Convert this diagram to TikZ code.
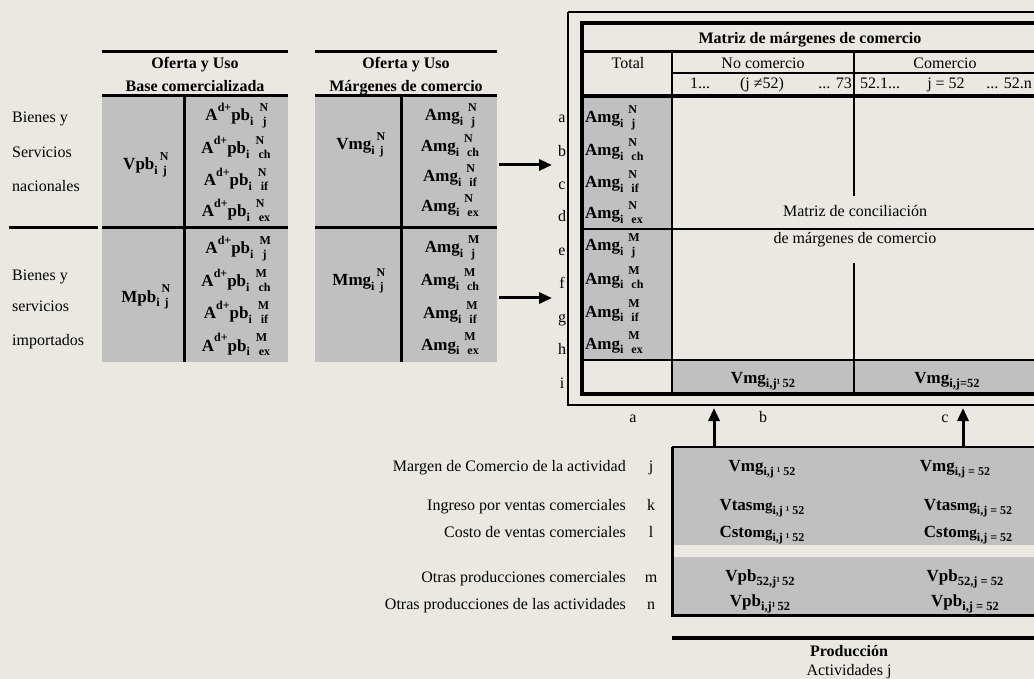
\documentclass[tikz,border=0pt]{standalone}
\usepackage{fontspec}
\setmainfont{Liberation Serif}
\usetikzlibrary{arrows.meta}
\definecolor{bg}{RGB}{235,232,225}
\definecolor{cellgray}{RGB}{192,192,192}
\newcommand{\fx}{\fontsize{17}{20}\selectfont\bfseries}
\newcommand{\xhi}[1]{\raisebox{0.55em}{\fontsize{12}{12}\selectfont #1}}
\newcommand{\xlo}[1]{\raisebox{-0.25em}{\fontsize{12}{12}\selectfont #1}}
\newcommand{\xsb}[1]{\raisebox{-0.25em}{\fontsize{12.5}{12}\selectfont #1}}
\newcommand{\tri}[4]{\xlo{#1}\kern#2\makebox[0pt][l]{\xhi{#3}}\kern3pt\xlo{#4}}
\newcommand{\smg}{{\fontsize{15}{15}\selectfont mg}}
\begin{document}
\begin{tikzpicture}[x=1pt,y=-1pt,
  lab/.style={font=\fontsize{16}{18}\selectfont, inner sep=0pt, anchor=base},
  labr/.style={lab, anchor=base east},
  labl/.style={lab, anchor=base west},
  ttl/.style={lab, font=\fontsize{16}{18}\selectfont\bfseries},
  fm/.style={inner sep=0pt, anchor=base, font=\fx},
  fml/.style={fm, anchor=base west},
  thk/.style={line width=3pt},
  med/.style={line width=2pt},
  thn/.style={line width=1.3pt},
  arr/.style={line width=3pt, -{Triangle[length=13pt,width=11pt]}},
]
\fill[bg] (0,0) rectangle (1034,679);
\useasboundingbox (0,0) rectangle (1034,679);
\clip (0,0) rectangle (1034,679);

% ---------- block 1 and 2 ----------
\fill[cellgray] (102,97) rectangle (288,362);
\fill[cellgray] (315,97) rectangle (497,362);
\draw[thk] (102,52) -- (288,52);
\draw[thk] (102,96) -- (288,96);
\draw[thk] (184,96) -- (184,362);
\draw[thk] (9,228) -- (98,228);
\draw[thk] (102,228) -- (288,228);
\draw[thk] (315,52) -- (497,52);
\draw[thk] (315,96) -- (497,96);
\draw[thk] (401,96) -- (401,362);
\draw[thk] (315,228) -- (497,228);

\node[ttl] (t1a) at (195,69) {Oferta y Uso};
\node[ttl] (t1b) at (195,92) {Base comercializada};
\node[ttl] (t2a) at (406,69) {Oferta y Uso};
\node[ttl] (t2b) at (406,92) {Márgenes de comercio};

\node[labl] (l1) at (12,123) {Bienes y};
\node[labl] (l2) at (12,158) {Servicios};
\node[labl] (l3) at (12,192) {nacionales};
\node[labl] (l4) at (12,280) {Bienes y};
\node[labl] (l5) at (12,312) {servicios};
\node[labl] (l6) at (12,345) {importados};

\node[fm] (vpb) at (145,170) {Vpb\tri{i}{2pt}{N}{j}};
\node[fm] (mpb) at (145,302) {Mpb\tri{i}{2pt}{N}{j}};
\node[fm] (an1) at (236,121) {A\xhi{d+}pb\tri{i}{6pt}{N}{j}};
\node[fm] (an2) at (236,154) {A\xhi{d+}pb\tri{i}{6pt}{N}{ch}};
\node[fm] (an3) at (236,186) {A\xhi{d+}pb\tri{i}{6pt}{N}{if}};
\node[fm] (an4) at (236,217) {A\xhi{d+}pb\tri{i}{6pt}{N}{ex}};
\node[fm] (am1) at (236,254) {A\xhi{d+}pb\tri{i}{6pt}{M}{j}};
\node[fm] (am2) at (236,287) {A\xhi{d+}pb\tri{i}{6pt}{M}{ch}};
\node[fm] (am3) at (236,319) {A\xhi{d+}pb\tri{i}{6pt}{M}{if}};
\node[fm] (am4) at (236,351) {A\xhi{d+}pb\tri{i}{6pt}{M}{ex}};

\node[fm] (vmg) at (360,150) {Vmg\tri{i}{2pt}{N}{j}};
\node[fm] (mmg) at (358,286) {Mmg\tri{i}{2pt}{N}{j}};
\node[fm] (bn1) at (450,121) {Amg\tri{i}{5pt}{N}{j}};
\node[fm] (bn2) at (450,152) {Amg\tri{i}{5pt}{N}{ch}};
\node[fm] (bn3) at (450,182) {Amg\tri{i}{5pt}{N}{if}};
\node[fm] (bn4) at (450,212) {Amg\tri{i}{5pt}{N}{ex}};
\node[fm] (bm1) at (450,253) {Amg\tri{i}{5pt}{M}{j}};
\node[fm] (bm2) at (450,286) {Amg\tri{i}{5pt}{M}{ch}};
\node[fm] (bm3) at (450,319) {Amg\tri{i}{5pt}{M}{if}};
\node[fm] (bm4) at (450,350) {Amg\tri{i}{5pt}{M}{ex}};

% ---------- matrix ----------
\fill[cellgray] (584,98) rectangle (672,360);
\fill[cellgray] (672,360) rectangle (1040,394);
\draw[line width=1.5pt] (1040,12) -- (568,12);
\draw[med] (568,12) -- (568,405) -- (1040,405);
\draw[line width=4pt] (1040,23) -- (582,23) -- (582,394) -- (1040,394);
\draw[thk] (582,52) -- (1040,52);
\draw[thn] (672,73) -- (1040,73);
\draw[line width=3.5pt] (582,96) -- (1040,96);
\draw[med] (672,52) -- (672,394);
\draw[med] (854,52) -- (854,196);
\draw[med] (854,263) -- (854,394);
\draw[med] (582,229) -- (1040,229);
\draw[med] (582,360) -- (1040,360);

\node[ttl] (mt) at (810,44) {Matriz de márgenes de comercio};
\node[lab] (hTot) at (628,69) {Total};
\node[lab] (hNo) at (763,69) {No comercio};
\node[lab] (hCo) at (945,69) {Comercio};
\node[lab] (h1) at (700,89) {1...};
\node[lab] (h2) at (762,89) {(j ≠52)};
\node[labr] (h3) at (852,89) {... 73};
\node[lab] (h4) at (880,89) {52.1...};
\node[lab] (h5) at (946,89) {j = 52};
\node[labr] (h6) at (1032,89) {... 52.n};

\node[lab] (ra) at (562,123) {a};
\node[lab] (rb) at (562,157) {b};
\node[lab] (rc) at (562,190) {c};
\node[lab] (rd) at (562,222) {d};
\node[lab] (re) at (562,256) {e};
\node[lab] (rf) at (562,289) {f};
\node[lab] (rg) at (562,322) {g};
\node[lab] (rh) at (562,354) {h};
\node[lab] (ri) at (562,388) {i};

\node[fml] (c1) at (585,123) {Amg\tri{i}{5pt}{N}{j}};
\node[fml] (c2) at (585,156) {Amg\tri{i}{5pt}{N}{ch}};
\node[fml] (c3) at (585,188) {Amg\tri{i}{5pt}{N}{if}};
\node[fml] (c4) at (585,219) {Amg\tri{i}{5pt}{N}{ex}};
\node[fml] (c5) at (585,251) {Amg\tri{i}{5pt}{M}{j}};
\node[fml] (c6) at (585,284) {Amg\tri{i}{5pt}{M}{ch}};
\node[fml] (c7) at (585,317) {Amg\tri{i}{5pt}{M}{if}};
\node[fml] (c8) at (585,349) {Amg\tri{i}{5pt}{M}{ex}};

\node[lab] (mc1) at (855,217) {Matriz de conciliación};
\node[lab] (mc2) at (855,244) {de márgenes de comercio};

\node[fm] (ti1) at (763,383) {Vmg\xsb{i,j¹\,52}};
\node[fm] (ti2) at (947,383) {Vmg\xsb{i,j=52}};

\node[lab] (ca) at (633,422) {a};
\node[lab] (cb) at (763,422) {b};
\node[lab] (cc) at (945,422) {c};

% ---------- arrows ----------
\coordinate (ar1s) at (499,165);
\coordinate (ar1e) at (552,165);
\coordinate (ar2s) at (499,298);
\coordinate (ar2e) at (552,298);
\draw[arr] (ar1s) -- (ar1e);
\draw[arr] (ar2s) -- (ar2e);

% ---------- bottom box ----------
\fill[cellgray] (672,447) rectangle (1040,545);
\fill[cellgray] (672,557) rectangle (1040,615);
\draw[med] (1040,447) -- (672,447);
\draw[thk] (672,447) -- (672,615) -- (1040,615);
\draw[line width=4pt] (672,638) -- (1040,638);

\coordinate (up1s) at (714,446);
\coordinate (up1e) at (714,408);
\coordinate (up2s) at (963,446);
\coordinate (up2e) at (963,408);
\draw[arr] (up1s) -- (up1e);
\draw[arr] (up2s) -- (up2e);

\node[labr] (bl1) at (626,471) {Margen de Comercio de la actividad};
\node[labr] (bl2) at (626,510) {Ingreso por ventas comerciales};
\node[labr] (bl3) at (626,537) {Costo de ventas comerciales};
\node[labr] (bl4) at (626,582) {Otras producciones comerciales};
\node[labr] (bl5) at (626,609) {Otras producciones de las actividades};
\node[lab] (bj) at (651,471) {j};
\node[lab] (bk) at (651,510) {k};
\node[lab] (bll) at (651,537) {l};
\node[lab] (bm) at (651,582) {m};
\node[lab] (bn) at (651,609) {n};

\node[fm] (p1a) at (762,471) {Vmg\xlo{i,j ¹ 52}};
\node[fm] (p1b) at (955,471) {Vmg\xlo{i,j = 52}};
\node[fm] (p2a) at (762,510) {Vtas\smg\xlo{i,j ¹ 52}};
\node[fm] (p2b) at (968,510) {Vtas\smg\xlo{i,j = 52}};
\node[fm] (p3a) at (762,537) {Csto\smg\xlo{i,j ¹ 52}};
\node[fm] (p3b) at (968,537) {Csto\smg\xlo{i,j = 52}};
\node[fm] (p4a) at (760,581) {Vpb\xsb{52,j¹\,52}};
\node[fm] (p4b) at (965,581) {Vpb\xsb{52,j = 52}};
\node[fm] (p5a) at (760,606) {Vpb\xsb{i,j¹\,52}};
\node[fm] (p5b) at (965,606) {Vpb\xsb{i,j = 52}};

\node[ttl] (prod) at (849,656) {Producción};
\node[lab] (act) at (849,675) {Actividades j};
\end{tikzpicture}
\end{document}
